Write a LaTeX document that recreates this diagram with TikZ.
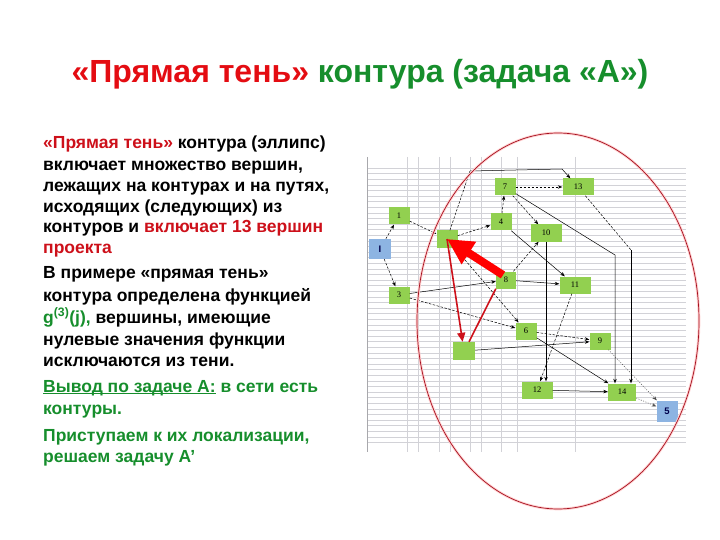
\documentclass[tikz,border=0pt]{standalone}
\usepackage{fontspec}
\setmainfont{Liberation Sans}
\newfontfamily\labfont{Liberation Serif}
\usetikzlibrary{arrows.meta}
\definecolor{tred}{RGB}{228,12,18}
\definecolor{bred}{RGB}{205,16,26}
\definecolor{tgreen}{RGB}{22,142,44}
\definecolor{ngreen}{RGB}{146,208,80}
\definecolor{nblue}{RGB}{141,180,226}
\definecolor{ered}{RGB}{165,15,30}
\definecolor{gridc}{RGB}{210,210,215}
\begin{document}
\begin{tikzpicture}[x=1pt,y=-1pt,
  gridl/.style={draw=gridc,line width=0.5pt},
  gbox/.style={fill=ngreen,draw=none,minimum width=21pt,minimum height=17pt,inner sep=0pt,font=\labfont\fontsize{8.5}{9}\selectfont},
  wbox/.style={gbox,minimum width=31pt},
  bbox/.style={fill=nblue,draw=none,minimum width=22pt,minimum height=20pt,inner sep=0pt,font=\bfseries\fontsize{9.5}{10}\selectfont,text=blue!30!black},
  conn/.style={draw=black,line width=0.5pt,-{Stealth[length=4.5pt,width=3.5pt]}},
  dconn/.style={conn,dash pattern=on 2.5pt off 1.5pt},
  pconn/.style={conn,draw=black!70,dash pattern=on 1pt off 1.5pt},
  bigred/.style={draw=red,line width=8pt,-{Triangle[length=26pt,width=25pt]}},
  thinred/.style={draw=bred,line width=1.6pt,-{Triangle[length=9pt,width=8pt]}},
  thinline/.style={draw=bred,line width=1.6pt},
  txt/.style={anchor=base west,inner sep=0pt,font=\bfseries\fontsize{17.5}{20}\selectfont}
]
\useasboundingbox (0,0) rectangle (720,540);

% title
\node[anchor=base,inner sep=0pt,font=\bfseries\fontsize{32}{36}\selectfont] (title) at (360,83)
  {\textcolor{tred}{«Прямая тень»} \textcolor{tgreen}{контура (задача «А»)}};

% left text
\node[txt] (t1) at (43,149) {\textcolor{bred}{«Прямая тень»} контура (эллипс)};
\node[txt] (t2) at (43,171) {включает множество вершин,};
\node[txt] (t3) at (43,192) {лежащих на контурах и на путях,};
\node[txt] (t4) at (43,213) {исходящих (следующих) из};
\node[txt] (t5) at (43,233) {контуров и \textcolor{bred}{включает 13 вершин}};
\node[txt] (t6) at (43,254) {\textcolor{bred}{проекта}};
\node[txt] (t7) at (43,278) {В примере «прямая тень»};
\node[txt] (t8) at (43,301) {контура определена функцией};
\node[txt] (t9) at (43,323) {\textcolor{tgreen}{g\textsuperscript{(3)}(j),} вершины, имеющие};
\node[txt] (t10) at (43,345) {нулевые значения функции};
\node[txt] (t11) at (43,366) {исключаются из тени.};
\node[txt,text=tgreen] (t12) at (43,392) {\underline{\smash{Вывод по задаче А:}} в сети есть};
\node[txt,text=tgreen] (t13) at (43,414) {контуры.};
\node[txt,text=tgreen] (t14) at (43,441) {Приступаем к их локализации,};
\node[txt,text=tgreen] (t15) at (43,462) {решаем задачу А’};

% spreadsheet grid
\foreach \y in {168,173.6,...,444} \draw[gridl] (367,\y) -- (686,\y);
\foreach \x in {407,418,439,450,470,481,501,517,575} \draw[gridl] (\x,157) -- (\x,452);
\draw[draw=gridc!80!black,line width=1pt] (367,157) -- (367,452);

% nodes
\node[bbox] (nI) at (380,249) {I};
\node[gbox] (n1) at (399,216) {1};
\node[gbox] (n3) at (399,295) {3};
\node[gbox] (n2) at (447,239) {};
\node[gbox] (n7) at (505,187) {7};
\node[gbox] (n4) at (501,222) {4};
\node[wbox] (n13) at (578,187) {13};
\node[wbox] (n10) at (546,233) {10};
\node[gbox,minimum width=20pt] (n8) at (506,280) {8};
\node[wbox] (n11) at (575,285) {11};
\node[gbox] (n6) at (526,331) {6};
\node[gbox,minimum width=22pt,minimum height=18pt] (nA) at (464,351) {};
\node[gbox] (n9) at (600,341) {9};
\node[wbox] (n12) at (537,390) {12};
\node[gbox,minimum width=28pt] (n14) at (622,392) {14};
\node[bbox,minimum width=21pt,minimum height=21pt] (n5) at (667,411) {5};

% helper coordinates
\coordinate (c1) at (470,171);
\coordinate (c2) at (562,169);
\coordinate (c3) at (615,255);
\coordinate (c4) at (631,250);

% connectors
\draw[dconn] (nI) -- (n1);
\draw[dconn] (nI) -- (n3);
\draw[dconn] (n1) -- (n2);
\draw[dconn] (n2) -- (n4);
\draw[dconn] (n4) -- (n7);
\draw[dconn,-] (n2) -- (c1);
\draw[conn] (c1) -- (c2) -- (n13);
\draw[dconn] (n7) -- (n13);
\draw[dconn] (n7) -- (n10);
\draw[conn] (n7) -- (c3) -- (c3 |- n14.north);
\draw[dconn,-] (n13) -- (c4);
\draw[conn] (c4) -- (c4 |- n14.north);
\draw[conn] (n4) -- (n11);
\draw[dconn] (n8) -- (n10);
\draw[conn] (n8) -- (n11);
\draw[conn] (n3) -- (n8);
\draw[dconn] (n3) -- (n6);
\draw[dconn] (n2) -- (n6);
\draw[dconn] (n6) -- (n9);
\draw[conn] (n6) -- (n14);
\draw[conn] (nA) -- (n9);
\draw[conn] (n10) -- (n10 |- n12.north);
\draw[dconn] (n11) -- (n12);
\draw[conn] (n12) -- (n14);
\draw[pconn] (n9) -- (n5);
\draw[pconn] (n14) -- (n5);

% ellipse
\draw[red!18,line width=2.6pt] (558,321) ellipse [x radius=141,y radius=188];
\draw[ered,line width=0.7pt] (558,321) ellipse [x radius=141,y radius=188];

% red arrows
\draw[thinred] (n2.center) -- (nA);
\draw[thinline] ([xshift=5pt]nA.north) -- (n8.south west);
\draw[bigred] ([shift={(-3pt,5pt)}]n8.center) -- (n2.center);
\end{tikzpicture}
\end{document}
